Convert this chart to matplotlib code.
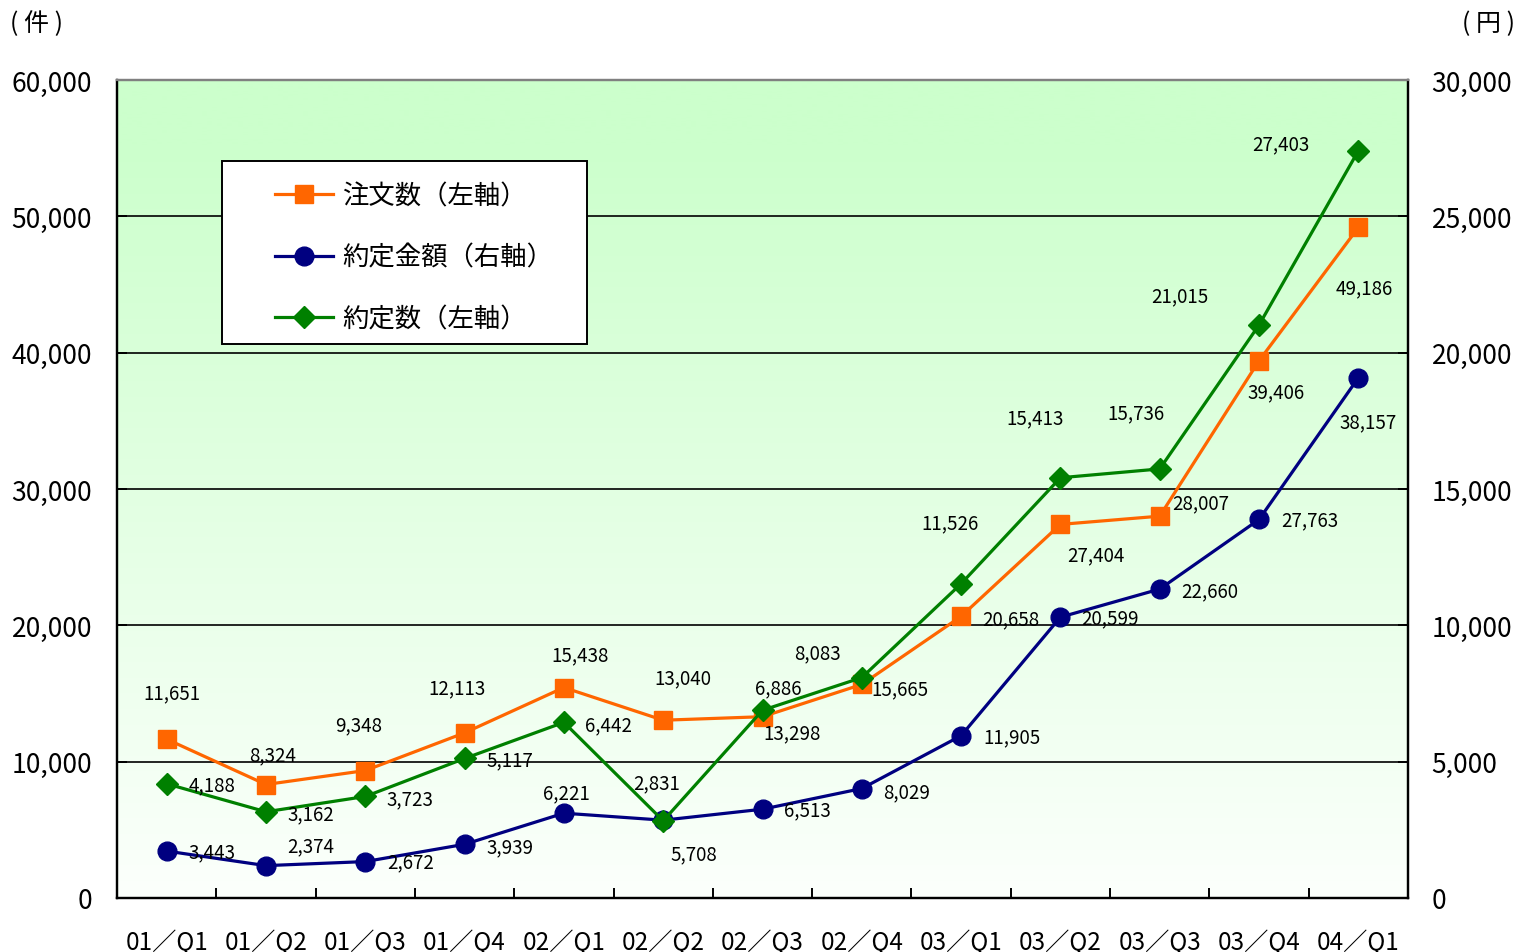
import numpy as np
import matplotlib
matplotlib.use("Agg")
import matplotlib.pyplot as plt
from matplotlib.patches import Rectangle
from matplotlib.ticker import FixedLocator, FuncFormatter

plt.rcParams['font.family'] = ['Noto Sans CJK JP', 'DejaVu Sans']

categories = ["01／Q1", "01／Q2", "01／Q3", "01／Q4", "02／Q1", "02／Q2", "02／Q3",
              "02／Q4", "03／Q1", "03／Q2", "03／Q3", "03／Q4", "04／Q1"]
orders = [11651, 8324, 9348, 12113, 15438, 13040, 13298, 15665, 20658, 27404, 28007, 39406, 49186]
amount = [3443, 2374, 2672, 3939, 6221, 5708, 6513, 8029, 11905, 20599, 22660, 27763, 38157]
contracts = [4188, 3162, 3723, 5117, 6442, 2831, 6886, 8083, 11526, 15413, 15736, 21015, 27403]
series_names = ["注文数（左軸）", "約定金額（右軸）", "約定数（左軸）"]
left_ticks = [0, 10000, 20000, 30000, 40000, 50000, 60000]
right_ticks = [0, 5000, 10000, 15000, 20000, 25000, 30000]
unit_left = "( 件 )"
unit_right = "( 円 )"

# label offsets in pixels (dx, dy)
orders_off = [(5, 46), (7, 30), (-7, 46), (-8, 45), (16, 33), (20, 42), (30, -16),
              (38, -4), (50, -2), (35, -30), (41, 13), (17, -31), (6, -60)]
amount_off = [(45, -1), (45, 20), (45, 0), (45, -2), (3, 20), (31, -34), (45, -1),
              (45, -3), (51, -1), (50, -1), (50, -2), (51, 0), (10, -44)]
contracts_off = [(45, -1), (45, -2), (45, -2), (45, -1), (45, -2), (-7, 38), (16, 22),
                 (-44, 25), (-11, 61), (-25, 60), (-24, 56), (-79, 29), (-78, 7)]

C_OR = "#FF6600"
C_NV = "#000080"
C_GR = "#008000"

W, H = 1517, 953
fig = plt.figure(figsize=(W / 100, H / 100), dpi=100)
ax = fig.add_axes([117 / W, (H - 899) / H, (1408 - 117) / W, (899 - 81) / H])
ax2 = ax.twinx()

n = len(categories)
x = np.arange(n)

# gradient background
t = np.linspace(0, 1, 256)
f = np.clip((t - 0.08) / 0.92, 0, 1)
top = np.array([204, 255, 204]) / 255
bot = np.array([252, 255, 252]) / 255
grad = top[None, :] * (1 - f[:, None]) + bot[None, :] * f[:, None]
ax.imshow(grad[:, None, :], extent=[-0.5, n - 0.5, 0, 60000], aspect='auto',
          origin='upper', zorder=0, interpolation='bilinear')

ax.set_xlim(-0.5, n - 0.5)
ax.set_ylim(0, 60000)
ax2.set_ylim(0, 30000)

for yv in left_ticks[1:-1]:
    ax.axhline(yv, color='black', lw=1.2, zorder=0.8)

l1, = ax.plot(x, orders, color=C_OR, lw=2.3, marker='s', ms=13.5, zorder=3,
              label=series_names[0])
l2, = ax.plot(x, amount, color=C_NV, lw=2.3, marker='o', ms=13.5, zorder=3,
              label=series_names[1])
l3, = ax2.plot(x, contracts, color=C_GR, lw=2.3, marker='D', ms=11.5, zorder=3,
               label=series_names[2])

lab_kw = dict(textcoords='offset pixels', ha='center', va='center', fontsize=13.5,
              color='black', zorder=6)
for i in range(n):
    ax.annotate(f"{orders[i]:,}", (x[i], orders[i]), xytext=orders_off[i], **lab_kw)
    ax.annotate(f"{amount[i]:,}", (x[i], amount[i]), xytext=amount_off[i], **lab_kw)
    ax2.annotate(f"{contracts[i]:,}", (x[i], contracts[i]), xytext=contracts_off[i], **lab_kw)

# axes styling
for a in (ax, ax2):
    for s in ('left', 'bottom', 'right'):
        a.spines[s].set_color('black')
        a.spines[s].set_linewidth(1.6)
    a.spines['top'].set_color('#808080')
    a.spines['top'].set_linewidth(1.6)

ax.xaxis.set_major_locator(FixedLocator(np.arange(0.5, n - 1, 1.0)))
ax.xaxis.set_minor_locator(FixedLocator(x))
ax.set_xticklabels([], minor=False)
ax.set_xticklabels(categories, minor=True)
ax.tick_params(axis='x', which='major', direction='in', length=7.2, width=1.4, color='black')
ax.tick_params(axis='x', which='minor', length=0, pad=22, labelsize=17.5)

ax.yaxis.set_major_locator(FixedLocator(left_ticks))
ax.yaxis.set_major_formatter(FuncFormatter(lambda v, p: f"{int(v):,}"))
ax.tick_params(axis='y', direction='in', length=7.2, width=1.4, pad=18, labelsize=19)

ax2.yaxis.set_major_locator(FixedLocator(right_ticks))
ax2.yaxis.set_major_formatter(FuncFormatter(lambda v, p: f"{int(v):,}"))
ax2.tick_params(axis='y', direction='in', length=7.2, width=1.4, pad=17, labelsize=19)

# units
fig.text(37 / W, 1 - 24 / H, unit_left, ha='center', va='center', fontsize=18)
fig.text(1488 / W, 1 - 24 / H, unit_right, ha='center', va='center', fontsize=18)

# legend box
bx0 = (222 - 117) / 1291
bx1 = (587 - 117) / 1291
by0 = (899 - 345) / 818
by1 = (899 - 162) / 818
ax2.add_patch(Rectangle((bx0, by0), bx1 - bx0, by1 - by0, transform=ax2.transAxes,
                        facecolor='white', edgecolor='black', lw=1.4, zorder=8))
leg = ax2.legend(handles=[l1, l2, l3], loc='upper left',
                 bbox_to_anchor=((275 - 117) / 1291, (899 - 183) / 818),
                 frameon=False, fontsize=19, handlelength=2.2, handletextpad=0.35,
                 labelspacing=1.32, borderpad=0, borderaxespad=0)
leg.set_zorder(9)

fig.savefig("out.png", dpi=100)
